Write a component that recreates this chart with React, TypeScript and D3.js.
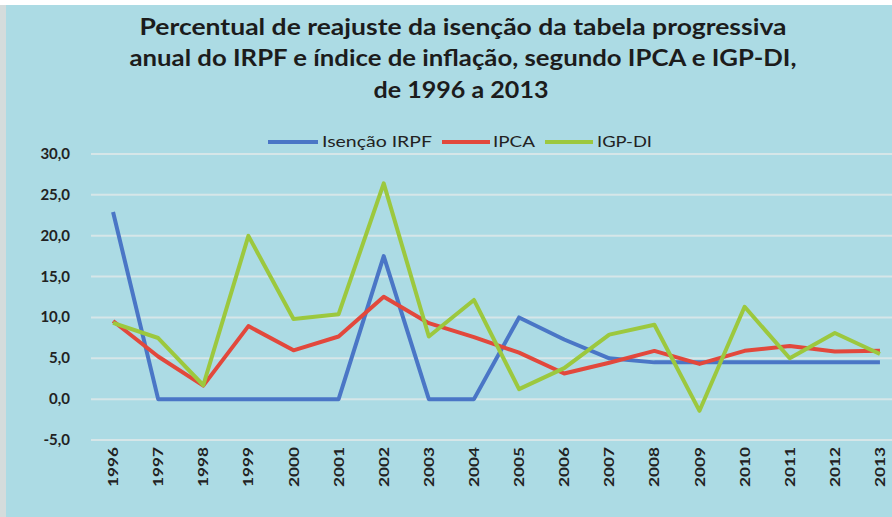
import React from 'react';
import * as d3 from 'd3';

// Years on the x axis
const years = ['1996', '1997', '1998', '1999', '2000', '2001', '2002', '2003', '2004',
  '2005', '2006', '2007', '2008', '2009', '2010', '2011', '2012', '2013'];

// Series values (%)
const isencaoIRPF = [22.9, 0, 0, 0, 0, 0, 17.5, 0, 0, 10.0, 7.3, 5.0, 4.5, 4.5, 4.5, 4.5, 4.5, 4.5];
const ipca = [9.56, 5.22, 1.65, 8.94, 5.97, 7.67, 12.53, 9.3, 7.6, 5.69, 3.14, 4.46, 5.9, 4.31, 5.91, 6.5, 5.84, 5.91];
const igpDi = [9.33, 7.48, 1.7, 19.98, 9.81, 10.4, 26.41, 7.66, 12.14, 1.22, 3.79, 7.89, 9.1, -1.43, 11.3, 5.0, 8.1, 5.52];

const yTicks = [-5, 0, 5, 10, 15, 20, 25, 30];

const titleLines = [
  'Percentual de reajuste da isenção da tabela progressiva',
  'anual do IRPF e índice de inflação, segundo IPCA e IGP-DI,',
  'de 1996 a 2013',
];

const series = [
  { name: 'Isenção IRPF', values: isencaoIRPF, color: '#4a76c6' },
  { name: 'IPCA', values: ipca, color: '#e2483c' },
  { name: 'IGP-DI', values: igpDi, color: '#9cc83e' },
];

const W = 892;
const H = 517;
const FONT = 'Lato, "Open Sans", sans-serif';

const App = () => {
  // Scales
  const x = d3.scaleBand<string>().domain(years).range([90.5, 902.5]);
  const cx = (d: string) => (x(d) as number) + x.bandwidth() / 2;
  const y = d3.scaleLinear().domain([-5, 30]).range([440, 154]);

  const line = d3.line<number>()
    .x((d, i) => cx(years[i]))
    .y(d => y(d));

  const fmt = (v: number) => v.toFixed(1).replace('.', ',');

  // Title layout: [centre x, baseline y, text width]
  const titlePos = [
    [463, 35, 647],
    [463, 66, 667],
    [461, 98, 175],
  ];

  // Legend layout
  const legendPos = [
    { x1: 268, x2: 318, tx: 322, tw: 110 },
    { x1: 442, x2: 490, tx: 493, tw: 42 },
    { x1: 545, x2: 593, tx: 597, tw: 55 },
  ];

  return (
    <div style={{ position: 'fixed', left: 0, top: 0, width: W, height: H, overflow: 'hidden' }}>
      <svg width={W} height={H} style={{ display: 'block' }}>
        <rect x={0} y={0} width={W} height={H} fill="#ffffff" />
        <rect x={0} y={5} width={W} height={H - 5} fill="#d4dcdc" />
        <rect x={6} y={5} width={W - 6} height={H - 5} fill="#acdbe4" />

        {/* Title */}
        {titleLines.map((t, i) => (
          <text key={t} x={titlePos[i][0]} y={titlePos[i][1]} textAnchor="middle"
            fontFamily={FONT} fontWeight="bold" fontSize={22} fill="#1c1c1c"
            textLength={titlePos[i][2]} lengthAdjust="spacingAndGlyphs">{t}</text>
        ))}

        {/* Gridlines */}
        {yTicks.map(t => (
          <line key={t} x1={91} x2={W} y1={y(t)} y2={y(t)} stroke="#d6e6e8" strokeWidth={2} />
        ))}

        {/* Y tick labels */}
        {yTicks.map(t => (
          <text key={'l' + t} x={70} y={y(t) + 5} textAnchor="end" fontFamily={FONT}
            fontWeight="bold" fontSize={15} fill="#222">{fmt(t)}</text>
        ))}

        {/* X tick labels */}
        {years.map(d => (
          <text key={d} transform={`translate(${cx(d) + 5},${447}) rotate(-90)`} textAnchor="end"
            fontFamily={FONT} fontWeight="bold" fontSize={14} fill="#222"
            textLength={40} lengthAdjust="spacingAndGlyphs">{d}</text>
        ))}

        {/* Lines */}
        {series.map(s => (
          <path key={s.name} d={line(s.values) as string} fill="none" stroke={s.color}
            strokeWidth={4} strokeLinejoin="round" />
        ))}

        {/* Legend */}
        {series.map((s, i) => (
          <g key={'lg' + s.name}>
            <line x1={legendPos[i].x1} x2={legendPos[i].x2} y1={142} y2={142} stroke={s.color} strokeWidth={4} />
            <text x={legendPos[i].tx} y={147} fontFamily={FONT} fontSize={15} fill="#222"
              textLength={legendPos[i].tw} lengthAdjust="spacingAndGlyphs">{s.name}</text>
          </g>
        ))}
      </svg>
    </div>
  );
};

export default App;
